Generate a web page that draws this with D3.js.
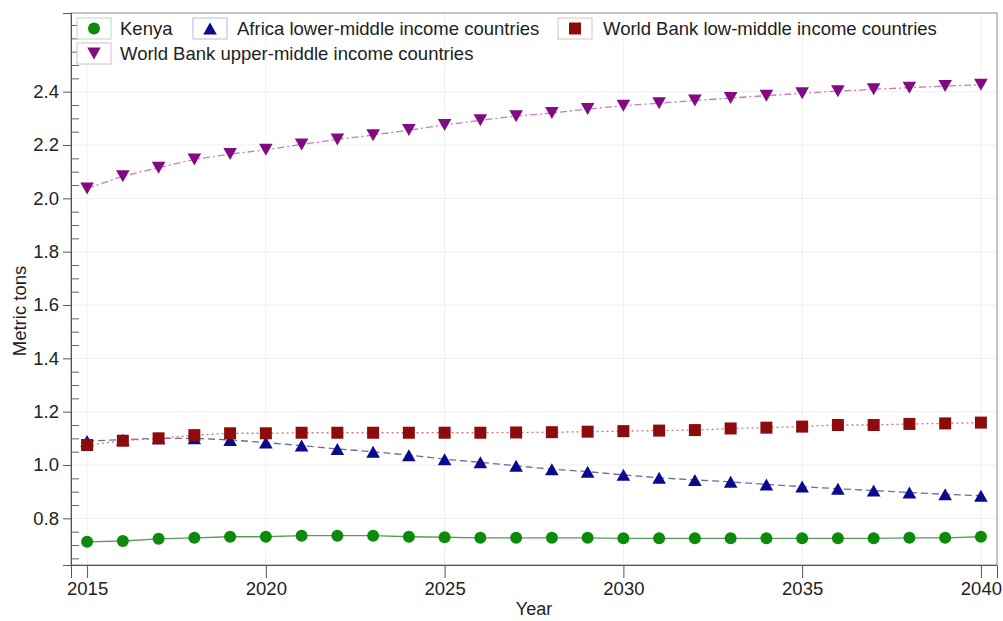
<!DOCTYPE html>
<html>
<head>
<meta charset="utf-8">
<script src="https://cdn.jsdelivr.net/npm/d3@7"></script>
<style>
  html, body { margin: 0; padding: 0; background: #fff; }
  svg { display: block; }
  text { font-family: "Liberation Sans", Arial, sans-serif; fill: #222; }
</style>
</head>
<body>
<svg id="chart" width="1003" height="621"></svg>
<script>
// Projected per-capita values, 2015–2040 (metric tons)
const years = d3.range(2015, 2041);
const kenya = [0.712, 0.715, 0.723, 0.727, 0.731, 0.731, 0.735, 0.735, 0.735, 0.731, 0.729, 0.727, 0.727,
               0.727, 0.727, 0.725, 0.725, 0.725, 0.725, 0.725, 0.725, 0.725, 0.725, 0.727, 0.727, 0.731];
const africaLowerMiddle = [1.090, 1.095, 1.100, 1.100, 1.094, 1.084, 1.073, 1.060, 1.050, 1.037, 1.022, 1.010, 0.997,
                           0.984, 0.975, 0.963, 0.952, 0.944, 0.937, 0.927, 0.919, 0.911, 0.904, 0.897, 0.890, 0.885];
const wbLowMiddle = [1.075, 1.091, 1.100, 1.112, 1.119, 1.119, 1.121, 1.121, 1.121, 1.121, 1.121, 1.121, 1.122,
                     1.123, 1.125, 1.127, 1.129, 1.131, 1.137, 1.140, 1.144, 1.150, 1.150, 1.154, 1.156, 1.159];
const wbUpperMiddle = [2.037, 2.083, 2.115, 2.146, 2.166, 2.182, 2.202, 2.221, 2.237, 2.256, 2.275, 2.293, 2.308,
                       2.320, 2.335, 2.347, 2.357, 2.367, 2.376, 2.385, 2.394, 2.402, 2.409, 2.415, 2.421, 2.426];
const xTicks = [2015, 2020, 2025, 2030, 2035, 2040];
const yTicks = [0.8, 1.0, 1.2, 1.4, 1.6, 1.8, 2.0, 2.2, 2.4];
const yMinorTicks = d3.range(13, 54).map(i => i * 0.05).filter(v => !yTicks.some(t => Math.abs(t - v) < 1e-6));

const series = [
  { name: "Kenya", values: kenya, shape: "circle", fill: "#0b8a0b", line: "#5c9a5c", dash: null, box: "#b9dcb9" },
  { name: "Africa lower-middle income countries", values: africaLowerMiddle, shape: "up", fill: "#0a0a8c", line: "#6b6b9e", dash: "7,4", box: "#b9b9dc" },
  { name: "World Bank low-middle income countries", values: wbLowMiddle, shape: "square", fill: "#8e0b0b", line: "#d47878", dash: "2,3", box: "#dcc0c0" },
  { name: "World Bank upper-middle income countries", values: wbUpperMiddle, shape: "down", fill: "#820a82", line: "#c27cc2", dash: "7,3,2,3", box: "#d8b9d8" }
];

const svg = d3.select("#chart");
const plotL = 71, plotR = 997, plotT = 13, plotB = 565;

const x = d3.scaleLinear().domain([2014.55, 2040.45]).range([plotL, plotR]);
const y = d3.scaleLinear().domain([0.625, 2.695]).range([plotB, plotT]);

// marker drawing, centred on the point
function marker(g, shape, cx, cy, color) {
  if (shape === "circle") {
    g.append("circle").attr("cx", cx).attr("cy", cy).attr("r", 6).attr("fill", color);
  } else if (shape === "square") {
    g.append("rect").attr("x", cx - 6).attr("y", cy - 6).attr("width", 12).attr("height", 12).attr("fill", color);
  } else {
    const w = 6.8, h = 6, s = shape === "up" ? 1 : -1;
    g.append("path")
      .attr("d", `M${cx},${cy - s * h}L${cx + w},${cy + s * h}L${cx - w},${cy + s * h}Z`)
      .attr("fill", color);
  }
}

// gridlines
const grid = svg.append("g");
grid.selectAll("line.gx").data(xTicks).join("line")
  .attr("x1", d => x(d)).attr("x2", d => x(d)).attr("y1", plotT).attr("y2", plotB)
  .attr("stroke", "#efefef").attr("stroke-width", 1);
grid.selectAll("line.gy").data(yTicks).join("line")
  .attr("x1", plotL).attr("x2", plotR).attr("y1", d => y(d)).attr("y2", d => y(d))
  .attr("stroke", "#efefef").attr("stroke-width", 1);

// plot frame
svg.append("rect").attr("x", plotL).attr("y", plotT).attr("width", plotR - plotL).attr("height", plotB - plotT)
  .attr("fill", "none").attr("stroke", "#8a8a8a").attr("stroke-width", 1);

// axes
const yAxis = svg.append("g").attr("transform", `translate(${plotL},0)`)
  .call(d3.axisLeft(y).tickValues(yTicks).tickFormat(d3.format(".1f")).tickSize(8).tickPadding(4));
yAxis.select(".domain").attr("stroke", "#555");
yAxis.selectAll(".tick line").attr("stroke", "#555");
yAxis.selectAll(".tick text").attr("font-size", "18.5px").attr("fill", "#222");
const yMinor = svg.append("g").attr("transform", `translate(${plotL},0)`)
  .call(d3.axisRight(y).tickValues(yMinorTicks).tickSize(8).tickFormat(""));
yMinor.select(".domain").remove();
yMinor.selectAll(".tick line").attr("stroke", "#666");

const xAxis = svg.append("g").attr("transform", `translate(0,${plotB})`)
  .call(d3.axisBottom(x).tickValues(xTicks).tickFormat(d3.format("d")).tickSize(13).tickPadding(4));
xAxis.select(".domain").attr("stroke", "#555");
xAxis.selectAll(".tick line").attr("stroke", "#555");
xAxis.selectAll(".tick text").attr("font-size", "18.5px").attr("fill", "#222");

// axis titles
svg.append("text").attr("x", (plotL + plotR) / 2).attr("y", 615).attr("text-anchor", "middle")
  .attr("font-size", "18px").text("Year");
svg.append("text").attr("transform", "translate(26,311) rotate(-90)").attr("text-anchor", "middle")
  .attr("font-size", "18.5px").text("Metric tons");

// lines and markers
const lineGen = d3.line().x((d, i) => x(years[i])).y(d => y(d));
series.forEach(s => {
  svg.append("path").datum(s.values).attr("d", lineGen)
    .attr("fill", "none").attr("stroke", s.line).attr("stroke-width", 1.3)
    .attr("stroke-dasharray", s.dash);
});
series.forEach(s => {
  const g = svg.append("g");
  s.values.forEach((v, i) => marker(g, s.shape, x(years[i]), y(v), s.fill));
});

// legend
const legendPos = [
  { bx: 77, by: 18, tx: 120 },
  { bx: 193, by: 18, tx: 237 },
  { bx: 558, by: 18, tx: 603 },
  { bx: 77, by: 43, tx: 120 }
];
const legend = svg.append("g");
series.forEach((s, i) => {
  const p = legendPos[i];
  legend.append("rect").attr("x", p.bx).attr("y", p.by).attr("width", 34).attr("height", 21)
    .attr("fill", "#fff").attr("stroke", s.box).attr("stroke-width", 1);
  marker(legend, s.shape, p.bx + 17, p.by + 10.5, s.fill);
  legend.append("text").attr("x", p.tx).attr("y", p.by + 17).attr("font-size", "18.5px").text(s.name);
});
</script>
</body>
</html>
